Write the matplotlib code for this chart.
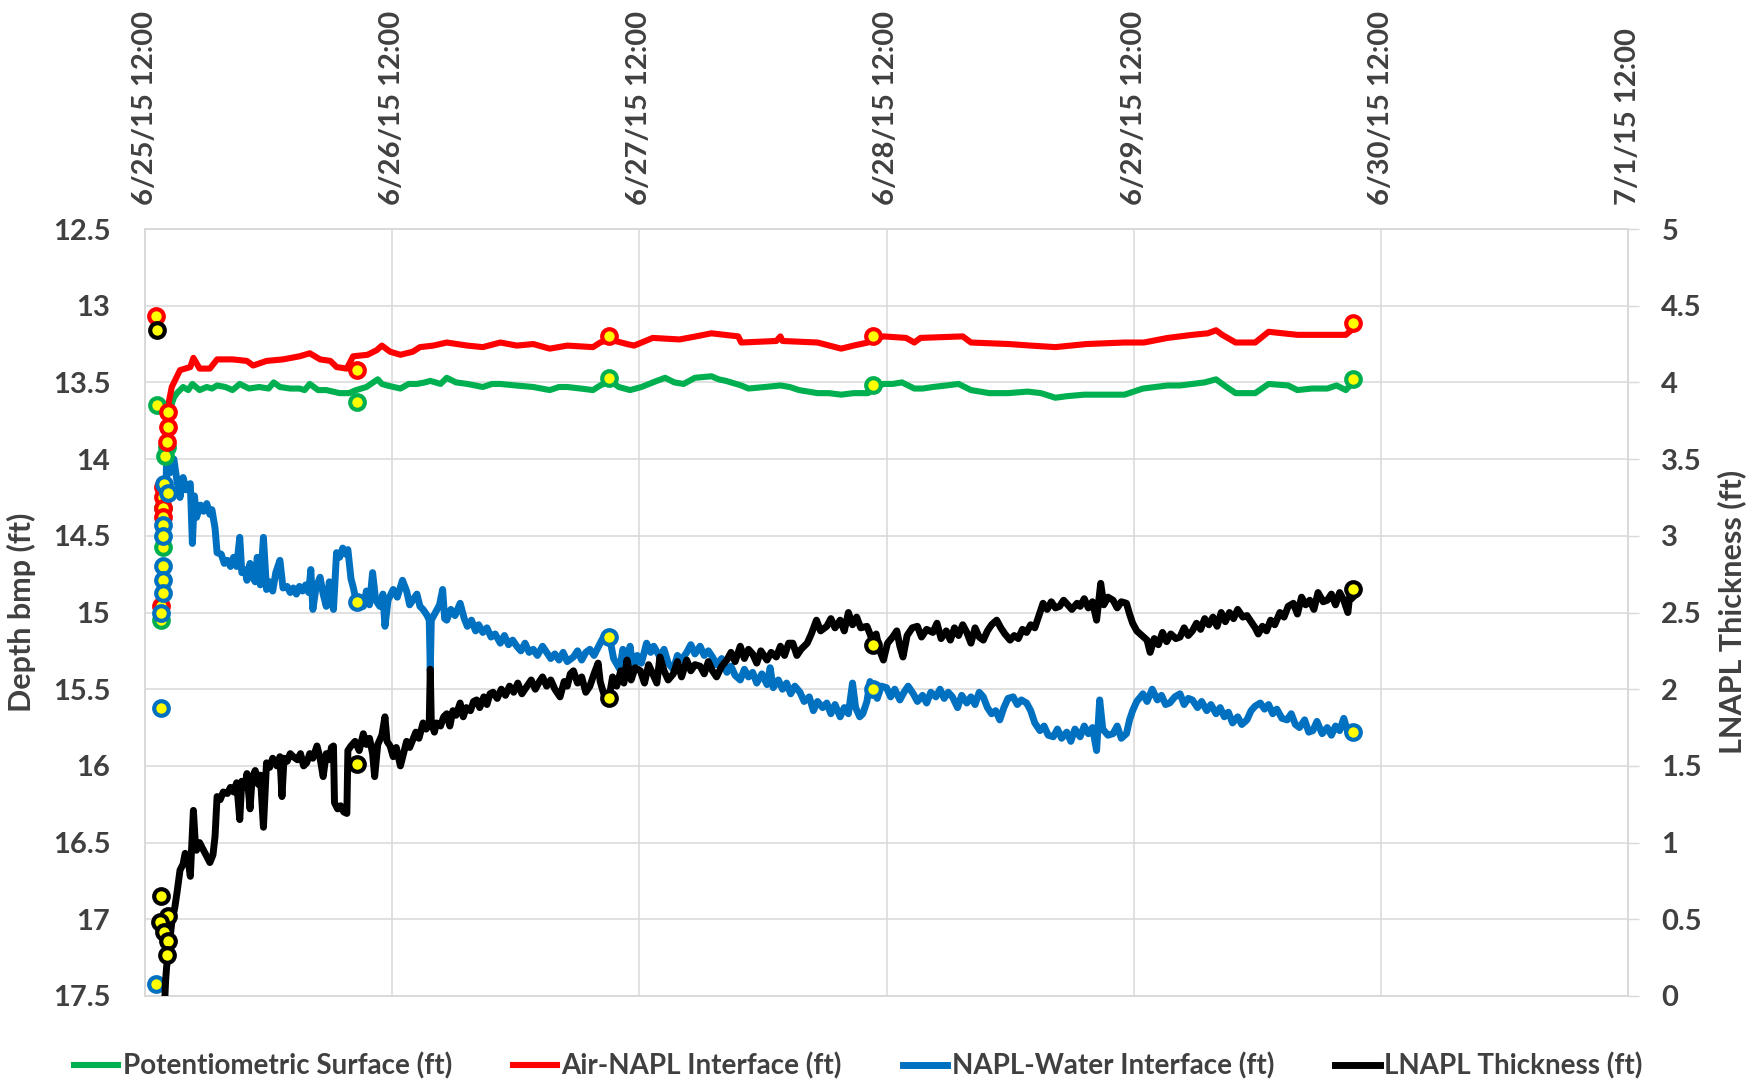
import datetime as dt
import matplotlib
matplotlib.use("Agg")
import matplotlib.pyplot as plt
import numpy as np

plt.rcParams['font.family'] = ['Lato', 'DejaVu Sans']
plt.rcParams['font.weight'] = 'bold'

# logger record, hours after 6/25/15 12:00
START = dt.datetime(2015, 6, 25, 12, 0)

green_hours = [1.9, 2.2, 2.4, 2.8, 3.1, 3.7, 4.2, 4.6, 5.3, 6.0,
               6.5, 7.0, 7.8, 8.5, 9.2, 10.1, 11.1, 12.0, 12.5, 13.1,
               14.1, 15.0, 15.5, 16.0, 16.8, 17.6, 18.9, 19.8, 20.5, 21.5,
               22.6, 23.0, 23.5, 24.8, 25.6, 26.4, 27.2, 27.7, 28.7, 29.3,
               30.2, 31.3, 32.8, 33.7, 34.5, 36.0, 37.7, 39.3, 40.2, 41.0,
               42.3, 43.5, 44.2, 45.2, 46.0, 47.1, 48.2, 49.7, 50.5, 51.4,
               52.3, 53.4, 55.0, 55.7, 56.4, 57.9, 58.6, 60.2, 61.7, 62.6,
               63.5, 65.3, 66.4, 67.6, 68.8, 70.2, 71.0, 71.7, 72.6, 73.5,
               74.7, 75.5, 76.5, 77.8, 79.0, 80.2, 82.0, 83.8, 85.7, 87.0,
               88.4, 89.5, 91.2, 92.8, 95.1, 96.9, 99.3, 100.5, 101.7, 102.9,
               104.0, 104.8, 105.9, 107.8, 109.1, 111.0, 111.9, 113.3, 114.8, 115.7,
               116.6, 117.3]
green_depth = [13.95, 13.78, 13.68, 13.60, 13.57, 13.53, 13.55, 13.51, 13.55, 13.53,
               13.54, 13.52, 13.53, 13.55, 13.51, 13.54, 13.53, 13.54, 13.50, 13.53,
               13.54, 13.54, 13.55, 13.51, 13.55, 13.55, 13.57, 13.57, 13.55, 13.53,
               13.48, 13.51, 13.52, 13.54, 13.51, 13.51, 13.50, 13.49, 13.51, 13.47,
               13.50, 13.51, 13.53, 13.51, 13.51, 13.52, 13.53, 13.55, 13.53, 13.53,
               13.54, 13.55, 13.52, 13.49, 13.53, 13.55, 13.53, 13.49, 13.47, 13.50,
               13.51, 13.47, 13.46, 13.48, 13.49, 13.52, 13.54, 13.53, 13.52, 13.53,
               13.55, 13.57, 13.57, 13.58, 13.57, 13.57, 13.53, 13.51, 13.51, 13.50,
               13.54, 13.54, 13.53, 13.52, 13.51, 13.55, 13.57, 13.57, 13.56, 13.57,
               13.60, 13.59, 13.58, 13.58, 13.58, 13.54, 13.52, 13.52, 13.51, 13.50,
               13.48, 13.52, 13.57, 13.57, 13.51, 13.52, 13.55, 13.54, 13.54, 13.52,
               13.55, 13.50]

red_hours = [2.0, 2.1, 2.6, 3.4, 4.4, 4.7, 5.3, 6.3, 7.0, 8.5,
             9.9, 10.5, 11.8, 13.4, 15.0, 16.0, 17.0, 18.0, 18.6, 19.6,
             20.2, 21.6, 22.5, 23.0, 23.8, 24.8, 26.0, 26.7, 28.0, 29.3,
             31.3, 32.8, 34.5, 36.1, 37.7, 39.3, 41.0, 43.5, 44.2, 45.1,
             46.8, 47.5, 49.3, 51.9, 53.5, 55.0, 57.6, 57.9, 61.3, 61.7,
             61.9, 65.3, 67.6, 68.8, 70.2, 71.7, 73.9, 74.7, 75.3, 79.4,
             80.2, 83.9, 86.0, 88.4, 91.4, 95.1, 97.0, 99.3, 101.7, 103.2,
             104.0, 104.6, 105.9, 107.8, 109.1, 111.9, 114.8, 116.6, 117.3]
red_depth = [13.85, 13.70, 13.53, 13.42, 13.40, 13.34, 13.41, 13.41, 13.35, 13.35,
             13.36, 13.39, 13.36, 13.35, 13.33, 13.31, 13.35, 13.36, 13.40, 13.41,
             13.33, 13.32, 13.29, 13.26, 13.30, 13.32, 13.30, 13.27, 13.26, 13.24,
             13.26, 13.27, 13.24, 13.26, 13.25, 13.28, 13.26, 13.27, 13.24, 13.22,
             13.25, 13.26, 13.21, 13.22, 13.20, 13.18, 13.20, 13.24, 13.23, 13.20,
             13.23, 13.24, 13.28, 13.26, 13.24, 13.20, 13.21, 13.24, 13.21, 13.20,
             13.24, 13.25, 13.26, 13.27, 13.25, 13.24, 13.24, 13.21, 13.19, 13.18,
             13.16, 13.19, 13.24, 13.24, 13.17, 13.19, 13.19, 13.19, 13.15]

blue_hours = [2.0, 2.1, 2.4, 2.8, 3.1, 3.4, 3.7, 4.0, 4.4, 4.6,
              4.8, 5.0, 5.4, 5.7, 6.0, 6.3, 6.5, 6.8, 7.0, 7.4,
              7.7, 8.0, 8.3, 8.6, 8.9, 9.2, 9.4, 9.7, 9.9, 10.2,
              10.4, 10.7, 10.9, 11.2, 11.5, 11.8, 12.1, 12.4, 12.7, 13.1,
              13.4, 13.8, 14.1, 14.4, 14.7, 15.0, 15.3, 15.6, 15.9, 16.1,
              16.3, 16.6, 17.0, 17.3, 17.6, 17.9, 18.1, 18.3, 18.6, 18.9,
              19.2, 19.5, 19.7, 20.0, 20.2, 20.5, 20.8, 21.2, 21.5, 21.8,
              22.1, 22.4, 22.8, 23.1, 23.3, 23.6, 24.1, 24.5, 25.0, 25.4,
              25.7, 26.0, 26.4, 26.7, 27.0, 27.4, 27.6, 27.7, 27.8, 28.2,
              28.6, 28.9, 29.1, 29.3, 29.7, 30.1, 30.6, 31.0, 31.3, 31.7,
              32.1, 32.4, 32.8, 33.2, 33.6, 34.0, 34.5, 34.9, 35.3, 35.7,
              36.1, 36.5, 36.9, 37.3, 37.7, 38.1, 38.6, 39.0, 39.4, 39.8,
              40.2, 40.6, 41.0, 41.6, 42.0, 42.4, 42.8, 43.2, 43.6, 44.2,
              44.6, 45.1, 45.5, 46.1, 46.4, 46.8, 47.1, 47.4, 47.8, 48.2,
              48.7, 49.1, 49.4, 50.0, 50.4, 50.8, 51.3, 51.7, 52.1, 52.6,
              53.0, 53.4, 53.9, 54.3, 54.7, 55.1, 55.5, 56.0, 56.5, 56.9,
              57.3, 57.8, 58.2, 58.6, 59.0, 59.4, 59.9, 60.4, 60.7, 61.0,
              61.5, 61.9, 62.3, 62.7, 63.1, 63.6, 64.0, 64.5, 64.9, 65.3,
              65.8, 66.2, 66.6, 67.0, 67.5, 67.9, 68.3, 68.7, 69.0, 69.4,
              69.7, 70.1, 70.4, 70.7, 71.1, 71.5, 72.0, 72.4, 72.8, 73.3,
              73.7, 74.1, 74.6, 75.0, 75.5, 75.9, 76.3, 76.8, 77.2, 77.6,
              78.0, 78.4, 78.9, 79.3, 79.8, 80.2, 80.6, 81.0, 81.4, 81.8,
              82.2, 82.6, 83.0, 83.4, 83.8, 84.3, 84.7, 85.1, 85.6, 86.0,
              86.4, 86.9, 87.3, 87.7, 88.2, 88.6, 89.0, 89.5, 89.9, 90.3,
              90.8, 91.2, 91.6, 92.0, 92.4, 92.7, 93.0, 93.5, 94.0, 94.4,
              94.8, 95.3, 95.6, 95.9, 96.3, 96.9, 97.3, 97.8, 98.3, 98.7,
              99.1, 99.5, 100.0, 100.5, 100.9, 101.3, 101.7, 102.2, 102.6, 103.1,
              103.5, 104.0, 104.4, 104.8, 105.2, 105.6, 106.1, 106.5, 107.0, 107.4,
              107.8, 108.3, 108.7, 109.1, 109.5, 109.9, 110.4, 110.9, 111.3, 111.7,
              112.1, 112.6, 113.0, 113.4, 113.8, 114.3, 114.8, 115.2, 115.6, 116.0,
              116.4, 116.8, 117.3]
blue_depth = [14.40, 13.96, 14.09, 14.00, 14.14, 14.25, 14.12, 14.20, 14.16, 14.55,
              14.24, 14.38, 14.30, 14.34, 14.29, 14.36, 14.33, 14.45, 14.61, 14.62,
              14.68, 14.66, 14.70, 14.64, 14.70, 14.51, 14.74, 14.72, 14.79, 14.68,
              14.76, 14.80, 14.64, 14.82, 14.51, 14.85, 14.80, 14.86, 14.74, 14.66,
              14.84, 14.83, 14.87, 14.84, 14.88, 14.83, 14.86, 14.82, 14.87, 14.72,
              14.98, 14.84, 14.77, 14.88, 14.96, 14.80, 14.92, 14.98, 14.61, 14.64,
              14.58, 14.62, 14.59, 14.78, 14.83, 14.92, 14.90, 14.96, 14.86, 14.95,
              14.74, 14.92, 14.96, 14.88, 15.09, 14.92, 14.85, 14.90, 14.79, 14.86,
              14.95, 14.92, 14.88, 14.96, 14.98, 15.02, 15.05, 15.38, 15.05, 15.00,
              14.95, 14.85, 15.04, 15.05, 14.98, 15.02, 14.94, 15.04, 15.09, 15.05,
              15.12, 15.08, 15.13, 15.10, 15.16, 15.14, 15.20, 15.15, 15.21, 15.18,
              15.22, 15.25, 15.20, 15.26, 15.24, 15.28, 15.22, 15.26, 15.30, 15.27,
              15.31, 15.26, 15.32, 15.29, 15.25, 15.31, 15.26, 15.24, 15.28, 15.20,
              15.15, 15.16, 15.30, 15.37, 15.24, 15.34, 15.22, 15.37, 15.28, 15.33,
              15.20, 15.26, 15.22, 15.29, 15.24, 15.33, 15.37, 15.28, 15.31, 15.26,
              15.21, 15.27, 15.22, 15.28, 15.25, 15.29, 15.34, 15.30, 15.39, 15.35,
              15.41, 15.44, 15.37, 15.42, 15.39, 15.46, 15.40, 15.47, 15.36, 15.49,
              15.44, 15.50, 15.46, 15.53, 15.48, 15.52, 15.58, 15.55, 15.64, 15.58,
              15.62, 15.59, 15.66, 15.60, 15.68, 15.62, 15.66, 15.46, 15.62, 15.68,
              15.66, 15.58, 15.45, 15.50, 15.56, 15.48, 15.49, 15.55, 15.50, 15.57,
              15.52, 15.48, 15.53, 15.58, 15.54, 15.59, 15.52, 15.55, 15.50, 15.56,
              15.52, 15.55, 15.62, 15.54, 15.59, 15.55, 15.60, 15.52, 15.55, 15.62,
              15.66, 15.64, 15.70, 15.62, 15.56, 15.55, 15.60, 15.57, 15.59, 15.64,
              15.72, 15.77, 15.74, 15.80, 15.81, 15.76, 15.82, 15.78, 15.84, 15.76,
              15.81, 15.74, 15.79, 15.75, 15.90, 15.57, 15.76, 15.80, 15.79, 15.74,
              15.82, 15.79, 15.70, 15.64, 15.58, 15.53, 15.58, 15.50, 15.57, 15.54,
              15.60, 15.59, 15.55, 15.53, 15.60, 15.56, 15.57, 15.62, 15.58, 15.64,
              15.60, 15.66, 15.62, 15.68, 15.65, 15.72, 15.68, 15.73, 15.70, 15.64,
              15.61, 15.59, 15.63, 15.60, 15.66, 15.63, 15.69, 15.70, 15.66, 15.73,
              15.75, 15.70, 15.78, 15.77, 15.71, 15.79, 15.75, 15.80, 15.74, 15.77,
              15.69, 15.78, 15.78]

black_hours = [1.9, 2.0, 2.1, 2.3, 2.6, 2.9, 3.1, 3.4, 3.7, 3.9,
               4.2, 4.4, 4.7, 4.9, 5.0, 5.3, 5.6, 6.0, 6.3, 6.6,
               6.8, 7.0, 7.3, 7.6, 8.0, 8.3, 8.6, 8.9, 9.2, 9.4,
               9.7, 9.9, 10.2, 10.4, 10.7, 11.0, 11.2, 11.5, 11.8, 12.1,
               12.4, 12.8, 13.1, 13.3, 13.5, 13.8, 14.1, 14.4, 14.8, 15.1,
               15.4, 15.7, 16.0, 16.3, 16.7, 17.0, 17.3, 17.6, 17.9, 18.1,
               18.3, 18.4, 18.7, 19.0, 19.3, 19.6, 19.7, 20.0, 20.4, 20.8,
               21.2, 21.5, 21.8, 22.1, 22.3, 22.6, 23.0, 23.3, 23.5, 23.8,
               24.1, 24.4, 24.8, 25.1, 25.4, 25.7, 26.0, 26.3, 26.6, 27.0,
               27.3, 27.6, 27.7, 27.8, 28.1, 28.3, 28.7, 29.0, 29.3, 29.6,
               29.9, 30.2, 30.6, 30.9, 31.2, 31.6, 31.9, 32.2, 32.5, 32.9,
               33.2, 33.5, 33.8, 34.2, 34.6, 35.0, 35.4, 35.8, 36.2, 36.6,
               37.1, 37.5, 37.9, 38.3, 38.6, 39.0, 39.4, 39.8, 40.3, 40.7,
               41.0, 41.3, 41.6, 42.0, 42.4, 42.8, 43.2, 43.6, 44.0, 44.2,
               44.5, 44.8, 45.1, 45.4, 45.8, 46.2, 46.5, 46.8, 47.2, 47.6,
               48.1, 48.5, 48.9, 49.3, 49.7, 50.0, 50.4, 50.8, 51.3, 51.7,
               52.1, 52.6, 53.0, 53.4, 53.9, 54.3, 54.7, 55.1, 55.5, 56.0,
               56.5, 56.9, 57.3, 57.8, 58.2, 58.6, 59.0, 59.4, 59.8, 60.4,
               60.8, 61.3, 61.7, 62.1, 62.5, 62.9, 63.3, 63.7, 64.3, 64.7,
               65.2, 65.6, 66.2, 66.6, 67.0, 67.5, 67.9, 68.3, 68.7, 69.1,
               69.5, 70.1, 70.4, 70.7, 71.0, 71.3, 71.7, 72.1, 72.6, 73.0,
               73.3, 73.6, 74.0, 74.5, 75.0, 75.4, 75.9, 76.5, 76.9, 77.3,
               77.8, 78.2, 78.6, 79.0, 79.4, 79.8, 80.2, 80.6, 81.0, 81.4,
               81.8, 82.2, 82.7, 83.1, 83.5, 84.0, 84.4, 84.8, 85.2, 85.6,
               86.0, 86.4, 86.8, 87.2, 87.6, 88.0, 88.4, 88.8, 89.2, 89.6,
               90.0, 90.5, 90.8, 91.2, 91.6, 92.0, 92.4, 92.8, 93.1, 93.5,
               94.0, 94.4, 94.8, 95.3, 95.6, 95.9, 96.3, 96.8, 97.3, 97.6,
               98.0, 98.4, 98.8, 99.2, 99.6, 100.1, 100.5, 100.9, 101.3, 101.7,
               102.1, 102.5, 102.9, 103.3, 103.7, 104.1, 104.5, 104.9, 105.3, 105.7,
               106.1, 106.6, 107.0, 107.4, 107.8, 108.1, 108.5, 108.9, 109.3, 109.7,
               110.2, 110.6, 111.0, 111.5, 111.9, 112.3, 112.7, 113.1, 113.5, 113.9,
               114.4, 114.8, 115.2, 115.6, 116.0, 116.4, 116.8, 117.0, 117.3]
black_thick = [-0.05, 0.10, 0.19, 0.30, 0.48, 0.58, 0.67, 0.82, 0.86, 0.93,
               0.88, 0.78, 1.21, 0.98, 0.95, 1.00, 0.96, 0.91, 0.87, 0.92,
               1.04, 1.30, 1.28, 1.33, 1.32, 1.36, 1.33, 1.39, 1.15, 1.40,
               1.36, 1.45, 1.22, 1.42, 1.47, 1.38, 1.44, 1.10, 1.52, 1.49,
               1.55, 1.50, 1.56, 1.30, 1.55, 1.53, 1.58, 1.56, 1.54, 1.58,
               1.50, 1.52, 1.58, 1.55, 1.63, 1.55, 1.43, 1.58, 1.54, 1.62,
               1.63, 1.26, 1.22, 1.24, 1.20, 1.19, 1.60, 1.63, 1.66, 1.60,
               1.71, 1.64, 1.68, 1.58, 1.43, 1.64, 1.70, 1.82, 1.66, 1.63,
               1.56, 1.62, 1.50, 1.58, 1.66, 1.62, 1.67, 1.72, 1.68, 1.78,
               1.74, 1.78, 2.13, 1.78, 1.72, 1.78, 1.76, 1.82, 1.84, 1.76,
               1.86, 1.83, 1.91, 1.82, 1.88, 1.86, 1.92, 1.93, 1.88, 1.95,
               1.90, 1.97, 1.98, 1.94, 2.00, 1.96, 2.02, 1.98, 2.04, 1.97,
               2.02, 2.06, 2.00, 2.05, 2.08, 2.02, 2.06, 2.00, 1.95, 2.05,
               2.02, 2.10, 2.12, 2.04, 2.08, 1.98, 2.02, 2.10, 2.17, 2.05,
               1.98, 1.92, 1.96, 2.08, 2.02, 2.12, 2.04, 2.19, 2.06, 2.14,
               2.12, 2.04, 2.16, 2.10, 2.04, 2.21, 2.12, 2.06, 2.10, 2.18,
               2.08, 2.19, 2.12, 2.16, 2.15, 2.10, 2.18, 2.12, 2.08, 2.15,
               2.19, 2.24, 2.18, 2.28, 2.20, 2.26, 2.23, 2.17, 2.25, 2.19,
               2.24, 2.21, 2.28, 2.22, 2.30, 2.30, 2.22, 2.26, 2.30, 2.36,
               2.45, 2.38, 2.41, 2.46, 2.40, 2.45, 2.38, 2.50, 2.42, 2.47,
               2.40, 2.41, 2.36, 2.30, 2.36, 2.26, 2.19, 2.30, 2.34, 2.38,
               2.28, 2.21, 2.35, 2.40, 2.41, 2.34, 2.39, 2.37, 2.43, 2.33,
               2.38, 2.32, 2.40, 2.35, 2.42, 2.37, 2.30, 2.40, 2.34, 2.32,
               2.38, 2.42, 2.45, 2.40, 2.36, 2.32, 2.35, 2.33, 2.39, 2.37,
               2.42, 2.40, 2.48, 2.56, 2.52, 2.57, 2.53, 2.54, 2.58, 2.55,
               2.52, 2.56, 2.54, 2.59, 2.53, 2.57, 2.45, 2.69, 2.55, 2.60,
               2.58, 2.53, 2.57, 2.56, 2.49, 2.43, 2.38, 2.35, 2.32, 2.24,
               2.33, 2.29, 2.37, 2.31, 2.36, 2.33, 2.34, 2.40, 2.35, 2.38,
               2.43, 2.39, 2.46, 2.42, 2.47, 2.41, 2.50, 2.44, 2.50, 2.46,
               2.52, 2.47, 2.48, 2.44, 2.40, 2.36, 2.41, 2.38, 2.45, 2.42,
               2.50, 2.47, 2.54, 2.56, 2.49, 2.60, 2.55, 2.58, 2.52, 2.63,
               2.57, 2.58, 2.62, 2.55, 2.63, 2.58, 2.50, 2.62, 2.60]

# manual gauging (yellow dots)
green_mark_hours = [1.2, 2.1, 1.9, 1.7, 1.7, 1.6, 20.6, 45.1, 70.7, 117.3]
green_mark_depth = [13.65, 13.92, 13.98, 14.32, 14.57, 15.05, 13.63, 13.47, 13.52, 13.48]
red_mark_hours = [1.1, 2.2, 2.2, 2.1, 1.7, 1.7, 1.7, 1.7, 1.6, 20.6, 45.1, 70.7, 117.3]
red_mark_depth = [13.07, 13.69, 13.79, 13.89, 14.18, 14.25, 14.32, 14.38, 14.96,
                  13.42, 13.20, 13.20, 13.11]
blue_mark_hours = [1.8, 2.2, 1.7, 1.7, 1.7, 1.7, 1.7, 1.6, 1.6, 1.1, 20.6, 45.1, 70.7, 117.3]
blue_mark_depth = [14.16, 14.22, 14.43, 14.50, 14.70, 14.79, 14.87, 15.00, 15.62, 17.42,
                   14.93, 15.16, 15.50, 15.78]
black_mark_hours = [1.2, 1.6, 2.2, 1.5, 1.8, 2.2, 2.1, 20.6, 45.1, 70.7, 117.3]
black_mark_thick = [4.34, 0.65, 0.52, 0.48, 0.42, 0.36, 0.27, 1.51, 1.94, 2.29, 2.65]

GREEN, RED, BLUE, BLACK = '#00b050', '#ff0000', '#0070c0', '#000000'
YELLOW = '#ffff00'
GRID = '#d9d9d9'
TXT = '#404040'

W, H = 1754, 1082
fig = plt.figure(figsize=(W / 100, H / 100), dpi=100)
ax = fig.add_axes([145 / W, 1 - 996 / H, (1628 - 145) / W, (996 - 229) / H])
ax2 = ax.twinx()

ax.plot(green_hours, green_depth, color=GREEN, lw=4.4, label='Potentiometric Surface (ft)',
        zorder=3, solid_joinstyle='round')
ax.plot(red_hours, red_depth, color=RED, lw=4.4, label='Air-NAPL Interface (ft)',
        zorder=3, solid_joinstyle='round')
ax.plot(blue_hours, blue_depth, color=BLUE, lw=5.0, label='NAPL-Water Interface (ft)',
        zorder=3, solid_joinstyle='round')
ax2.plot(black_hours, black_thick, color=BLACK, lw=5.0, label='LNAPL Thickness (ft)',
         zorder=3, solid_joinstyle='round')

mk = dict(ls='none', marker='o', ms=10.5, mew=3.0, mfc=YELLOW, zorder=5, clip_on=False)
ax.plot(green_mark_hours, green_mark_depth, mec=GREEN, **mk)
ax.plot(red_mark_hours, red_mark_depth, mec=RED, **mk)
ax.plot(blue_mark_hours, blue_mark_depth, mec=BLUE, **mk)
ax2.plot(black_mark_hours, black_mark_thick, mec=BLACK, **mk)

# axes
ax.set_xlim(0, 144)
ax.set_ylim(17.5, 12.5)
ax2.set_ylim(0, 5)

day_ticks = np.arange(0, 145, 24)
day_labels = []
for h in day_ticks:
    d = START + dt.timedelta(hours=int(h))
    day_labels.append(f"{d.month}/{d.day}/{d:%y} {d:%H:%M}")
ax.set_xticks(day_ticks)
ax.set_xticklabels(day_labels, rotation=90, fontsize=21, color=TXT)
ax.xaxis.tick_top()
ax.tick_params(axis='x', length=0, pad=17)

yt = np.arange(12.5, 17.51, 0.5)
ax.set_yticks(yt)
ax.set_yticklabels([f"{v:g}" for v in yt], fontsize=21, color=TXT)
ax.tick_params(axis='y', length=0, pad=25)

rt = np.arange(0, 5.01, 0.5)
ax2.set_yticks(rt)
ax2.set_yticklabels([f"{v:g}" for v in rt], fontsize=21, color=TXT)
ax2.tick_params(axis='y', length=8, width=1, color=GRID, pad=16)

ax.grid(True, color=GRID, lw=1.1)
ax.set_axisbelow(True)
for a in (ax, ax2):
    for s in a.spines.values():
        s.set_color(GRID)
        s.set_linewidth(1.1)

fig.text(21 / W, 1 - 612 / H, 'Depth bmp (ft)', rotation=90, ha='center', va='center',
         fontsize=22, color=TXT)
fig.text(1732 / W, 1 - 612 / H, 'LNAPL Thickness (ft)', rotation=90, ha='center', va='center',
         fontsize=22, color=TXT)

h1, l1 = ax.get_legend_handles_labels()
h2, l2 = ax2.get_legend_handles_labels()
leg = fig.legend(h1 + h2, l1 + l2, loc='center', bbox_to_anchor=(858 / W, 1 - 1066 / H),
                 ncol=4, frameon=False, fontsize=20, handlelength=1.6, handletextpad=0.15,
                 columnspacing=2.2)
for t in leg.get_texts():
    t.set_color(TXT)

fig.savefig('out.png', dpi=100)
